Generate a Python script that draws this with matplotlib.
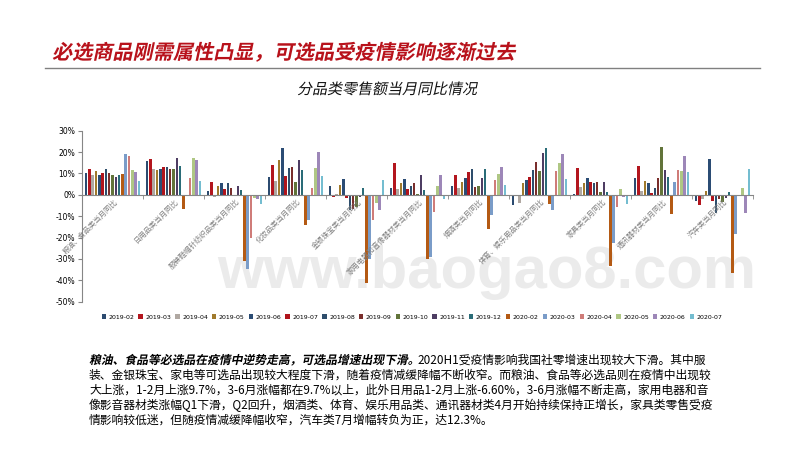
import numpy as np
import matplotlib
matplotlib.use("Agg")
import matplotlib.pyplot as plt
from matplotlib.textpath import TextPath
from matplotlib.patches import PathPatch
from matplotlib.font_manager import FontProperties
from matplotlib.transforms import Affine2D
from matplotlib.lines import Line2D

plt.rcParams['font.family'] = ['Noto Sans CJK SC', 'DejaVu Sans']
plt.rcParams['axes.unicode_minus'] = False

# months (series)
months = ['2019-02', '2019-03', '2019-04', '2019-05', '2019-06', '2019-07',
          '2019-08', '2019-09', '2019-10', '2019-11', '2019-12', '2020-02',
          '2020-03', '2020-04', '2020-05', '2020-06', '2020-07']
colors = ['#2C4B70', '#B3161E', '#B0A8A2', '#A07A2C', '#2B4C74', '#B0141C',
          '#2E4E6C', '#7A2E2C', '#62743A', '#4E3D63', '#2A6C78', '#B45A14',
          '#7A9CC8', '#CF7C79', '#AFC784', '#9D87B8', '#74BDD0']

categories = ['粮油、食品类当月同比', '日用品类当月同比', '服装鞋帽针纺织品类当月同比',
              '化妆品类当月同比', '金银珠宝类当月同比', '家用电器和音像器材类当月同比',
              '烟酒类当月同比', '体育、娱乐用品类当月同比', '家具类当月同比',
              '通讯器材类当月同比', '汽车类当月同比']

# YoY growth (%) per category, one value per month above
grain_food = [10.0, 11.9, 9.1, 11.3, 9.5, 10.0, 12.3, 10.0, 9.1, 8.4, 9.5, 9.7, 19.1, 18.0, 11.5, 10.5, 6.7]
daily_use = [15.6, 16.7, 12.3, 11.5, 12.3, 12.8, 12.8, 11.9, 11.9, 17.0, 13.7, -6.6, 0.0, 8.1, 17.0, 16.5, 6.7]
clothing = [1.6, 6.1, -1.0, 3.9, 5.3, 2.9, 5.3, 3.3, -0.5, 4.2, 2.1, -30.9, -34.5, -20.4, -1.5, -2.0, -4.2]
cosmetics = [8.4, 14.1, 6.6, 16.5, 22.1, 9.0, 12.7, 13.2, 6.1, 16.5, 11.8, -14.0, -11.7, 3.4, 12.7, 20.2, 8.9]
jewelry = [4.2, -1.2, 0.5, 4.7, 7.5, -1.7, -6.9, -6.7, -5.5, -1.1, 3.3, -41.1, -29.8, -12.0, -3.9, -7.0, 7.1]
appliances = [3.3, 15.1, 2.8, 5.7, 7.6, 2.9, 4.0, 5.3, 0.5, 9.5, 2.4, -30.0, -29.3, -8.2, 4.3, 9.5, -1.9]
tobacco = [4.2, 9.4, 3.3, 6.1, 8.0, 10.8, 12.2, 3.8, 4.2, 8.0, 12.2, -15.9, -9.4, 7.0, 9.8, 13.1, 4.7]
sports = [-4.7, -0.6, -3.6, 5.6, 7.0, 8.4, 11.7, 15.5, 11.2, 19.7, 22.0, -4.2, -7.0, 11.2, 15.0, 19.2, 7.5]
furniture = [0.3, 12.6, 3.6, 5.6, 7.9, 6.0, 5.6, 6.0, 1.4, 6.0, 1.4, -33.2, -22.6, -5.5, 2.8, -1.0, -4.3]
telecom = [7.9, 13.6, 1.9, 6.5, 5.6, 0.9, 3.2, 7.9, 22.5, 11.7, 8.4, -9.0, 6.0, 11.7, 11.2, 18.2, 10.7]
autos = [-2.8, -4.7, -2.1, 1.9, 16.8, -2.7, -8.4, -1.9, -3.4, -1.5, 1.4, -36.5, -18.3, 0.0, 3.2, -8.4, 12.3]

values = np.array([grain_food, daily_use, clothing, cosmetics, jewelry, appliances,
                   tobacco, sports, furniture, telecom, autos])

W, H = 800, 450
fig = plt.figure(figsize=(8, 4.5), dpi=100)
ax = fig.add_axes([82 / W, 1 - 301.7 / H, (753 - 82) / W, 171 / H])
ax.set_facecolor('none')

x = np.arange(len(categories))
n = len(months)
step = 0.92 / n
for i in range(n):
    offs = (i - (n - 1) / 2) * step
    ax.bar(x + offs, values[:, i], width=step * 0.78, color=colors[i],
           label=months[i], zorder=2)

ax.set_xlim(-0.5, len(categories) - 0.5)
ax.set_ylim(-50, 30)
ax.set_yticks(np.arange(-50, 31, 10))
ax.set_yticklabels([f'{v}%' for v in range(-50, 31, 10)], fontsize=5.5,
                   family=['DejaVu Sans'])
ax.set_xticks([])
ax.set_xticks(np.arange(-0.5, len(categories)), minor=True)
ax.tick_params(axis='x', which='minor', length=3, color='#868686', direction='out')
ax.tick_params(axis='y', length=3, color='#868686', pad=2)
for s in ['top', 'right']:
    ax.spines[s].set_visible(False)
ax.spines['bottom'].set_position(('data', 0))
ax.spines['bottom'].set_color('#868686')
ax.spines['left'].set_color('#868686')
ax.spines['bottom'].set_zorder(3)

for xi, name in zip(x, categories):
    ax.text(xi + 0.02, -1.3, name, rotation=45, ha='right', va='top',
            rotation_mode='anchor', fontsize=5.3, color='#808080')

# watermark
fig.text(487 / W, 1 - 272 / H, 'www.baogao8.com', ha='center', va='center',
         fontsize=43, weight='bold', family=['Liberation Sans'],
         color='#ebebeb', zorder=-1)


def slanted(px, py, s, size, color, weight='bold', sx=1.0, sy=1.0):
    fp = FontProperties(family=['Noto Sans CJK SC'], weight=weight)
    tp = TextPath((0, 0), s, size=size, prop=fp)
    tr = (Affine2D().scale(sx, sy).skew_deg(12, 0).scale(1 / 72)
          .translate(px / 100, (H - py) / 100) + fig.dpi_scale_trans)
    fig.add_artist(PathPatch(tp, transform=tr, facecolor=color, lw=0))


slanted(52, 59, '必选商品刚需属性凸显，可选品受疫情影响逐渐过去', 14.5, '#B8121B')
fig.add_artist(Line2D([45 / W, 760 / W], [1 - 68 / H] * 2, color='#808080', lw=1))
slanted(297, 94, '分品类零售额当月同比情况', 10.8, '#111111', weight='normal')

fig.legend(loc='center', bbox_to_anchor=(412 / W, 1 - 317 / H), ncol=n,
           frameon=False, prop={'family': 'DejaVu Sans', 'size': 4.5},
           handlelength=0.7, handleheight=0.7, handletextpad=0.4,
           columnspacing=0.65)

# text paragraph
bold_part = '粮油、食品等必选品在疫情中逆势走高，可选品增速出现下滑。'
slanted(89, 364, bold_part, 8.5, '#000000')
lines = [
    '2020H1受疫情影响我国社零增速出现较大下滑。其中服',
    '装、金银珠宝、家电等可选品出现较大程度下滑，随着疫情减缓降幅不断收窄。而粮油、食品等必选品则在疫情中出现较',
    '大上涨，1-2月上涨9.7%，3-6月涨幅都在9.7%以上，此外日用品1-2月上涨-6.60%，3-6月涨幅不断走高，家用电器和音',
    '像影音器材类涨幅Q1下滑，Q2回升，烟酒类、体育、娱乐用品类、通讯器材类4月开始持续保持正增长，家具类零售受疫',
    '情影响较低迷，但随疫情减缓降幅收窄，汽车类7月增幅转负为正，达12.3%。',
]
for k, line in enumerate(lines):
    lx = 417 if k == 0 else 89
    fig.text(lx / W, 1 - (364 + 15 * k) / H, line, fontsize=8.5,
             va='baseline', ha='left', color='#000000')

fig.savefig('out.png', dpi=100)
